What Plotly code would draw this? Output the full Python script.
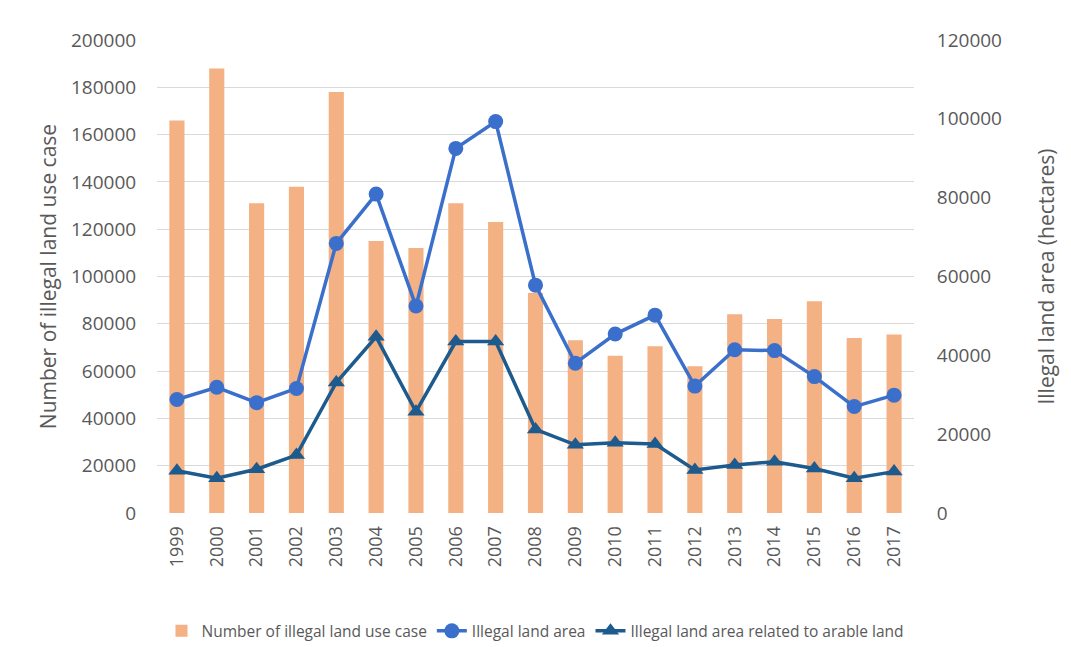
import plotly.graph_objects as go

years = [str(y) for y in range(1999, 2018)]
cases = [166000, 188000, 131000, 138000, 178000, 115000, 112000, 131000, 123000, 93000,
         73000, 66500, 70500, 62000, 84000, 82000, 89500, 74000, 75500]
land_area = [28800, 31900, 28000, 31600, 68400, 80900, 52500, 92500, 99300, 57800,
             38000, 45400, 50200, 32200, 41400, 41200, 34600, 27000, 29900]
arable_area = [10700, 8800, 11100, 14700, 33100, 44700, 25700, 43500, 43500, 21200,
               17300, 17800, 17500, 10900, 12200, 13000, 11300, 8800, 10500]

left_ticks = list(range(0, 200001, 20000))
right_ticks = list(range(0, 120001, 20000))

grey = "#595959"
font_family = "Open Sans, Liberation Sans, sans-serif"

fig = go.Figure()
fig.add_trace(go.Bar(
    x=years, y=cases, name="Number of illegal land use case",
    marker=dict(color="#F4B183", line=dict(width=0)),
    yaxis="y",
))
fig.add_trace(go.Scatter(
    x=years, y=land_area, name="Illegal land area", mode="lines+markers",
    line=dict(color="#3A6FCB", width=3.5),
    marker=dict(symbol="circle", size=15, color="#3A6FCB"),
    yaxis="y2",
))
fig.add_trace(go.Scatter(
    x=years, y=arable_area, name="Illegal land area related to arable land",
    mode="lines+markers",
    line=dict(color="#1D5A8E", width=3.5),
    marker=dict(symbol="triangle-up", size=15, color="#1D5A8E"),
    yaxis="y2",
))

fig.update_layout(
    width=1071, height=647,
    margin=dict(l=157, r=157, t=40, b=134, autoexpand=False),
    paper_bgcolor="white", plot_bgcolor="white",
    font=dict(family=font_family, color=grey, size=18),
    bargap=0.62,
    showlegend=True,
    legend=dict(
        orientation="h", x=0.5, xanchor="center", y=-0.25, yanchor="middle",
        font=dict(size=15.5, color=grey), traceorder="normal",
    ),
    xaxis=dict(
        type="category", range=[-0.5, len(years) - 0.5],
        tickangle=-90, showgrid=False, showline=False,
        ticks="outside", ticklen=5, tickcolor="rgba(0,0,0,0)",
        tickfont=dict(size=18, color=grey), automargin=False,
    ),
    yaxis=dict(
        range=[0, 200000], tickvals=left_ticks, tickformat="d", showgrid=True,
        gridcolor="#D9D9D9", gridwidth=1, zeroline=False, showline=False,
        ticks="outside", ticklen=16, tickcolor="rgba(0,0,0,0)",
        tickfont=dict(size=19, color=grey), automargin=False,
        title=dict(text="Number of illegal land use case", standoff=8,
                   font=dict(size=21, color=grey)),
    ),
    yaxis2=dict(
        range=[0, 120000], tickvals=right_ticks, tickformat="d",
        overlaying="y", side="right",
        showgrid=False, zeroline=False, showline=False,
        ticks="outside", ticklen=18, tickcolor="rgba(0,0,0,0)",
        tickfont=dict(size=19, color=grey), automargin=False,
        title=dict(text="Illegal land area (hectares)", standoff=38,
                   font=dict(size=21, color=grey)),
    ),
)

fig.write_html("out.html")
